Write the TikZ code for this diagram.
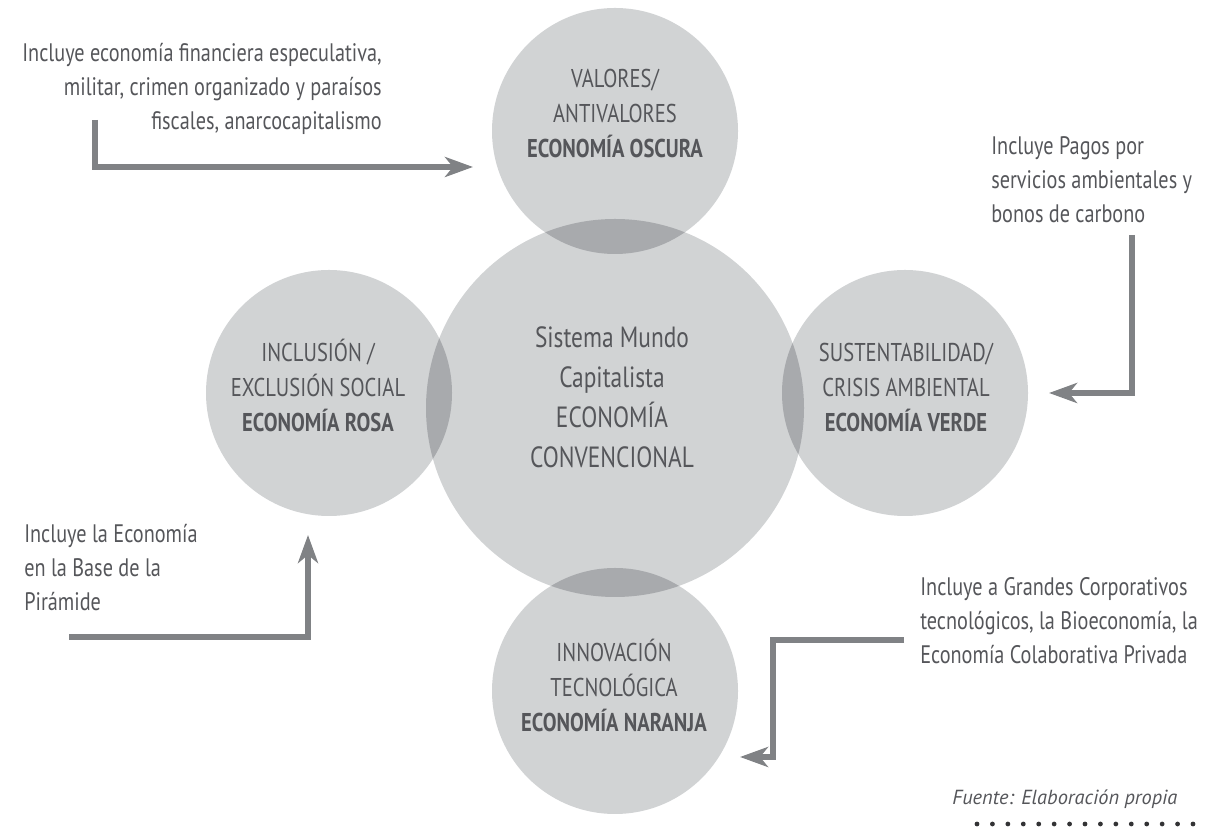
\documentclass[tikz,border=0pt]{standalone}
\usepackage{fontspec}
\setmainfont{PT Sans}[FakeStretch=0.8]
\newfontfamily\sourcefont{PT Sans}
\usetikzlibrary{arrows.meta}
\definecolor{bubblegray}{HTML}{D1D3D4}
\definecolor{overlapgray}{HTML}{A8AAAD}
\definecolor{textgray}{HTML}{55565A}
\definecolor{arrowgray}{HTML}{808285}
\definecolor{dotgray}{HTML}{333335}

\begin{document}
\begin{tikzpicture}[
small/.style = {circle, fill=bubblegray, minimum size=6.15cm, inner sep=0},
big/.style = {circle, fill=bubblegray, minimum size=9.45cm, inner sep=0},
label/.style = {text=textgray, inner sep=0, align=center, anchor=base, font={\fontsize{18.3}{25}\selectfont}},
core/.style = {text=textgray, inner sep=0, align=center, anchor=base, font={\fontsize{20.8}{28.5}\selectfont}},
note/.style = {text=textgray, inner sep=0, font={\fontsize{18}{24.5}\selectfont}},
pointer/.style = {draw=arrowgray, line width=3.6pt, -{Stealth[length=0.7cm, width=0.5cm, inset=0.2cm]}, arrowgray} ]
\useasboundingbox (0,0) rectangle (30.425,20.675);

\node[big] (conv) at (15.375,10.475) {};
\node[small] (oscura) at (15.375,17.4) {};
\node[small] (rosa) at (8.225,10.85) {};
\node[small] (verde) at (22.625,10.85) {};
\node[small] (naranja) at (15.375,3.4) {};

\begin{scope}
\clip (conv.center) circle (4.725);
\fill[overlapgray] (oscura.center) circle (3.075);
\fill[overlapgray] (rosa.center) circle (3.075);
\fill[overlapgray] (verde.center) circle (3.075);
\fill[overlapgray] (naranja.center) circle (3.075);
\end{scope}

\node[core] (convtext) at (15.3,8.975) {Sistema Mundo\\Capitalista\\ECONOMÍA\\CONVENCIONAL};
\node[label] (oscuratext) at (15.375,16.725) {VALORES/\\ANTIVALORES\\\textbf{ECONOMÍA OSCURA}};
\node[label] (rosatext) at (7.95,9.875) {INCLUSIÓN /\\EXCLUSIÓN SOCIAL\\\textbf{ECONOMÍA ROSA}};
\node[label] (verdetext) at (22.65,9.875) {SUSTENTABILIDAD/\\CRISIS AMBIENTAL\\\textbf{ECONOMÍA VERDE}};
\node[label] (naranjatext) at (15.35,2.375) {INNOVACIÓN\\TECNOLÓGICA\\\textbf{ECONOMÍA NARANJA}};

\node[note, align=right, anchor=base east] (oscuranote) at (9.55,17.425) {Incluye economía financiera especulativa,\\militar, crimen organizado y paraísos\\fiscales, anarcocapitalismo};
\node[note, align=left, anchor=base west] (verdenote) at (24.775,15.1) {Incluye Pagos por\\servicios ambientales y\\bonos de carbono};
\node[note, align=left, anchor=base west] (rosanote) at (0.6,5.4) {Incluye la Economía\\en la Base de la\\Pirámide};
\node[note, align=left, anchor=base west] (naranjanote) at (23.0,4.075) {Incluye a Grandes Corporativos\\tecnológicos, la Bioeconomía, la\\Economía Colaborativa Privada};

\coordinate (s1) at (2.375,17.675);
\coordinate (e1) at (11.825,16.5);
\coordinate (s2) at (28.3,14.8);
\coordinate (e2) at (26.225,10.85);
\coordinate (s3) at (1.725,4.75);
\coordinate (e3) at (7.7,7.3);
\coordinate (s4) at (22.6,4.675);
\coordinate (c4) at (19.325,4.675);
\coordinate (e4) at (18.5,1.75);

\draw[pointer] (s1) |- (e1);
\draw[pointer] (s2) |- (e2);
\draw[pointer] (s3) -| (e3);
\draw[pointer] (s4) -- (c4) |- (e4);

\node[text=textgray, inner sep=0, anchor=base west, font={\sourcefont\itshape\fontsize{14.5}{16}\selectfont}] (fuente) at (23.8,0.55) {Fuente: Elaboración propia};
\foreach \i in {0,...,14}
  \fill[dotgray] (24.425+\i*0.3857,0.075) circle (0.06);

\end{tikzpicture}
\end{document}
